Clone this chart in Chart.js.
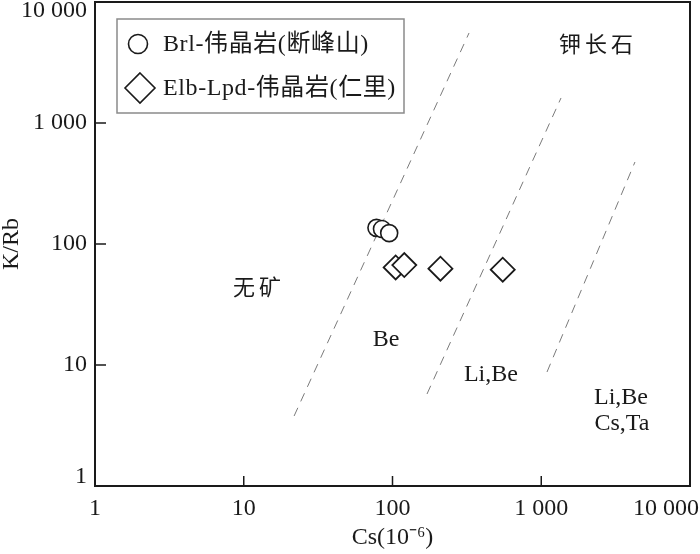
<!DOCTYPE html>
<html>
<head>
<meta charset="utf-8">
<script src="https://cdn.jsdelivr.net/npm/chart.js@4.4.1/dist/chart.umd.min.js"></script>
<style>
html, body { margin: 0; padding: 0; background: #fff; }
#wrap { width: 700px; height: 554px; }
</style>
</head>
<body>
<div id="wrap"><canvas id="chart" width="700" height="554"></canvas></div>
<script>
// axis ticks
var xTicks = [1, 10, 100, 1000, 10000];
var xTickLabels = ['1', '10', '100', '1 000', '10 000'];
var yTicks = [1, 10, 100, 1000, 10000];
var yTickLabels = ['1', '10', '100', '1 000', '10 000'];

// Brl-伟晶岩(断峰山)
var brlCs = [78, 85, 95];
var brlKRb = [136, 133, 123];
// Elb-Lpd-伟晶岩(仁里)
var elbCs = [105, 120, 210, 551];
var elbKRb = [64, 67, 62.5, 61.3];

// dashed boundaries, two ends each
var bound1Cs = [21.8, 327],  bound1KRb = [3.79, 5546];
var bound2Cs = [170.6, 1358], bound2KRb = [5.76, 1610];
var bound3Cs = [1093, 4266],  bound3KRb = [8.75, 476];

// field names
var fieldText = ['钾长石', '无矿', 'Be', 'Li,Be', 'Li,Be', 'Cs,Ta'];
var fieldCs   = [2409, 12.66, 90.4, 459, 3436, 3491];
var fieldKRb  = [4497, 44.1, 16.1, 8.27, 5.34, 3.25];

var SERIF = '"Liberation Serif", "Noto Sans CJK SC", serif';
var CJK = '"Noto Sans CJK SC", sans-serif';
var INK = '#1a1a1a';

function pts(xs, ys) {
    return xs.map(function (x, i) { return { x: x, y: ys[i] }; });
}

function boundLine(xs, ys) {
    return {
        data: pts(xs, ys),
        showLine: true,
        borderColor: '#7a7a7a',
        borderWidth: 1,
        borderDash: [9, 7],
        pointRadius: 0,
        fill: false
    };
}

function diamond(ctx, x, y, r) {
    ctx.beginPath();
    ctx.moveTo(x, y - r);
    ctx.lineTo(x + r, y);
    ctx.lineTo(x, y + r);
    ctx.lineTo(x - r, y);
    ctx.closePath();
}

var decor = {
    id: 'decor',
    afterDatasetsDraw: function (chart) {
        var ctx = chart.ctx, a = chart.chartArea;
        var sx = chart.scales.x, sy = chart.scales.y;
        ctx.save();

        // frame
        ctx.strokeStyle = INK;
        ctx.lineWidth = 2;
        ctx.strokeRect(a.left, a.top, a.right - a.left, a.bottom - a.top);

        // inward ticks
        ctx.lineWidth = 1.5;
        ctx.beginPath();
        xTicks.slice(1, -1).forEach(function (v) {
            var p = sx.getPixelForValue(v);
            ctx.moveTo(p, a.bottom);
            ctx.lineTo(p, a.bottom - 10);
        });
        yTicks.slice(1, -1).forEach(function (v) {
            var p = sy.getPixelForValue(v);
            ctx.moveTo(a.left, p);
            ctx.lineTo(a.left + 11, p);
        });
        ctx.stroke();

        // field names
        ctx.fillStyle = INK;
        ctx.textAlign = 'center';
        ctx.textBaseline = 'middle';
        fieldText.forEach(function (t, i) {
            var cjk = /[\u4e00-\u9fff]/.test(t);
            ctx.font = cjk ? '22px ' + CJK : '24px ' + SERIF;
            ctx.letterSpacing = cjk ? '4px' : '0px';
            ctx.fillText(t, sx.getPixelForValue(fieldCs[i]), sy.getPixelForValue(fieldKRb[i]));
        });

        // legend
        ctx.letterSpacing = '0px';
        ctx.strokeStyle = '#8a8a8a';
        ctx.lineWidth = 1.5;
        ctx.strokeRect(117, 19, 287, 94);
        var ds = chart.data.datasets;
        ctx.strokeStyle = INK;
        ctx.fillStyle = '#fff';
        ctx.lineWidth = 1.6;
        ctx.beginPath();
        ctx.arc(138, 44, 9.5, 0, Math.PI * 2);
        ctx.fill();
        ctx.stroke();
        diamond(ctx, 140, 88, 15);
        ctx.fill();
        ctx.stroke();
        ctx.fillStyle = INK;
        ctx.textAlign = 'left';
        ctx.font = '24px ' + SERIF;
        ctx.letterSpacing = '0.6px';
        ctx.fillText(ds[0].label, 163, 45);
        ctx.fillText(ds[1].label, 163, 89);
        ctx.restore();
    }
};

var ctx = document.getElementById('chart').getContext('2d');
var chart = new Chart(ctx, {
    type: 'scatter',
    data: {
        datasets: [{
            label: 'Brl-伟晶岩(断峰山)',
            data: pts(brlCs, brlKRb),
            pointStyle: 'circle',
            pointRadius: 8.5,
            pointBorderWidth: 1.6,
            pointBackgroundColor: '#fff',
            pointBorderColor: INK
        }, {
            label: 'Elb-Lpd-伟晶岩(仁里)',
            data: pts(elbCs, elbKRb),
            pointStyle: 'rectRot',
            pointRadius: 12,
            pointBorderWidth: 1.8,
            pointBackgroundColor: '#fff',
            pointBorderColor: INK
        },
        boundLine(bound1Cs, bound1KRb),
        boundLine(bound2Cs, bound2KRb),
        boundLine(bound3Cs, bound3KRb)]
    },
    options: {
        responsive: false,
        animation: false,
        devicePixelRatio: 1,
        layout: { autoPadding: false, padding: { top: 2, right: 10, left: 0, bottom: 0 } },
        plugins: { legend: { display: false }, tooltip: { enabled: false } },
        scales: {
            x: {
                type: 'logarithmic',
                min: 1,
                max: 10000,
                afterBuildTicks: function (s) {
                    s.ticks = xTicks.map(function (v) { return { value: v }; });
                },
                afterFit: function (s) {
                    s.height = 68;
                    s.paddingLeft = 0;
                    s.paddingRight = 0;
                },
                grid: { display: false, drawTicks: false },
                border: { display: false },
                ticks: {
                    autoSkip: false,
                    maxRotation: 0,
                    padding: 8,
                    color: INK,
                    font: { family: SERIF, size: 24 },
                    callback: function (v, i) {
                        // last label sits left of the corner
                        return i === xTicks.length - 1 ? xTickLabels[i] + '        ' : xTickLabels[i];
                    }
                },
                title: {
                    display: true,
                    text: 'Cs(10⁻⁶)',
                    color: INK,
                    font: { family: SERIF, size: 24 },
                    padding: { top: 0, bottom: 2 }
                }
            },
            y: {
                type: 'logarithmic',
                min: 1,
                max: 10000,
                afterBuildTicks: function (s) {
                    s.ticks = yTicks.map(function (v) { return { value: v }; });
                },
                afterFit: function (s) {
                    s.width = 95;
                    s.paddingTop = 0;
                    s.paddingBottom = 0;
                },
                grid: { display: false, drawTicks: false },
                border: { display: false },
                ticks: {
                    autoSkip: false,
                    padding: 8,
                    color: INK,
                    font: { family: SERIF, size: 24, lineHeight: 0.75 },
                    callback: function (v, i) {
                        // end labels kept inside the frame
                        if (i === 0) return [yTickLabels[i], ''];
                        if (i === yTicks.length - 1) return ['', yTickLabels[i]];
                        return yTickLabels[i];
                    }
                },
                title: {
                    display: true,
                    text: 'K/Rb',
                    color: INK,
                    font: { family: SERIF, size: 24, lineHeight: 1 },
                    padding: { top: 0, bottom: 0 }
                }
            }
        }
    },
    plugins: [decor]
});
</script>
</body>
</html>
